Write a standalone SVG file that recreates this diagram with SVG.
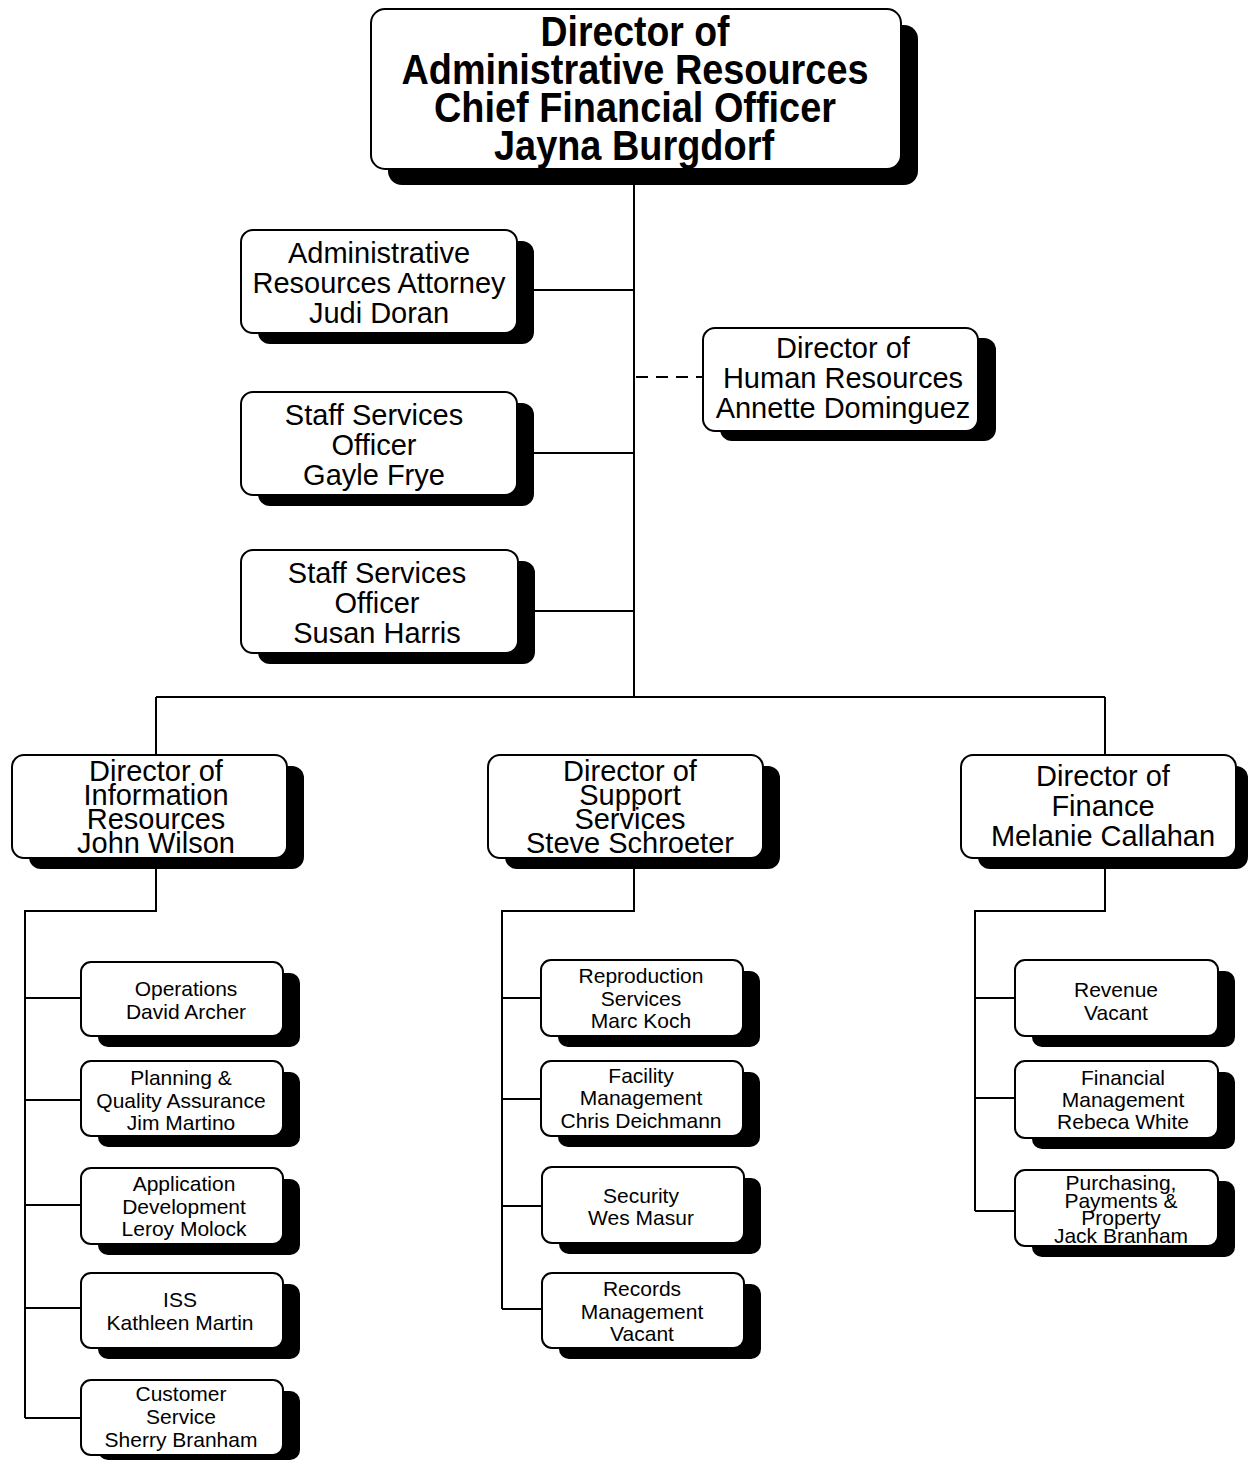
<svg xmlns="http://www.w3.org/2000/svg" width="1248" height="1460" viewBox="0 0 1248 1460">
<style>
.box{fill:#fff;stroke:#000;stroke-width:2}
.sh{fill:#000}
.ln{stroke:#000;stroke-width:2;fill:none}
.dash{stroke:#000;stroke-width:2;fill:none;stroke-dasharray:12,8}
text{font-family:"Liberation Sans",Arial,sans-serif;text-anchor:middle;fill:#000}
.t0{font-size:42px;font-weight:bold}
.t1{font-size:29px}
.t2{font-size:29px}
.t3{font-size:21px}
</style>
<rect width="1248" height="1460" fill="#fff"/>
<g id="connectors">
<path class="ln" d="M634 169V697M517 290H634M516 453H634M518 611H634M156 697H1105M156 697V755M1105 697V755"/>
<path class="dash" d="M636 377H703"/>
<path class="ln" d="M156 869V911H25V1418M25 998H81M25 1100H81M25 1205H81M25 1308H81M25 1418H81"/>
<path class="ln" d="M634 858V911H502V1309M502 998H541M502 1099H541M502 1206H541M502 1309H541"/>
<path class="ln" d="M1105 858V911H975V1211M975 998H1015M975 1098H1015M975 1211H1015"/>
</g>
<g id="n-top">
<rect class="sh" x="388" y="25" width="530" height="160" rx="14"/>
<rect class="box" x="371" y="9" width="530" height="160" rx="14"/>
<text class="t0" x="635" y="46" textLength="189" lengthAdjust="spacingAndGlyphs">Director of</text>
<text class="t0" x="635" y="84" textLength="467" lengthAdjust="spacingAndGlyphs">Administrative Resources</text>
<text class="t0" x="635" y="122" textLength="402" lengthAdjust="spacingAndGlyphs">Chief Financial Officer</text>
<text class="t0" x="634" y="160" textLength="280" lengthAdjust="spacingAndGlyphs">Jayna Burgdorf</text>
</g>
<g id="n-attorney">
<rect class="sh" x="258" y="241" width="276" height="103" rx="12"/>
<rect class="box" x="241" y="230" width="276" height="103" rx="12"/>
<text class="t1" x="379" y="263">Administrative</text>
<text class="t1" x="379" y="293">Resources Attorney</text>
<text class="t1" x="379" y="323">Judi Doran</text>
</g>
<g id="n-gayle">
<rect class="sh" x="258" y="403" width="276" height="103" rx="12"/>
<rect class="box" x="241" y="392" width="276" height="103" rx="12"/>
<text class="t1" x="374" y="425">Staff Services</text>
<text class="t1" x="374" y="455">Officer</text>
<text class="t1" x="374" y="485">Gayle Frye</text>
</g>
<g id="n-susan">
<rect class="sh" x="258" y="561" width="277" height="103" rx="12"/>
<rect class="box" x="241" y="550" width="277" height="103" rx="12"/>
<text class="t1" x="377" y="583">Staff Services</text>
<text class="t1" x="377" y="613">Officer</text>
<text class="t1" x="377" y="643">Susan Harris</text>
</g>
<g id="n-hr">
<rect class="sh" x="720" y="338" width="276" height="103" rx="12"/>
<rect class="box" x="703" y="328" width="275" height="103" rx="12"/>
<text class="t1" x="843" y="358">Director of</text>
<text class="t1" x="843" y="388">Human Resources</text>
<text class="t1" x="843" y="418">Annette Dominguez</text>
</g>
<g id="n-info">
<rect class="sh" x="29" y="766" width="275" height="103" rx="12"/>
<rect class="box" x="12" y="755" width="275" height="103" rx="12"/>
<text class="t2" x="156" y="781">Director of</text>
<text class="t2" x="156" y="805">Information</text>
<text class="t2" x="156" y="829">Resources</text>
<text class="t2" x="156" y="853">John Wilson</text>
</g>
<g id="n-support">
<rect class="sh" x="505" y="766" width="275" height="103" rx="12"/>
<rect class="box" x="488" y="755" width="275" height="103" rx="12"/>
<text class="t2" x="630" y="781">Director of</text>
<text class="t2" x="630" y="805">Support</text>
<text class="t2" x="630" y="829">Services</text>
<text class="t2" x="630" y="853">Steve Schroeter</text>
</g>
<g id="n-finance">
<rect class="sh" x="978" y="766" width="270" height="103" rx="12"/>
<rect class="box" x="961" y="755" width="275" height="103" rx="12"/>
<text class="t2" x="1103" y="786">Director of</text>
<text class="t2" x="1103" y="816">Finance</text>
<text class="t2" x="1103" y="846">Melanie Callahan</text>
</g>
<g id="n-operations">
<rect class="sh" x="98" y="973" width="202" height="74" rx="10"/>
<rect class="box" x="81" y="962" width="202" height="74" rx="10"/>
<text class="t3" x="186" y="996">Operations</text>
<text class="t3" x="186" y="1019">David Archer</text>
</g>
<g id="n-planning">
<rect class="sh" x="98" y="1072" width="202" height="75" rx="10"/>
<rect class="box" x="81" y="1061" width="202" height="75" rx="10"/>
<text class="t3" x="181" y="1085">Planning &amp;</text>
<text class="t3" x="181" y="1108">Quality Assurance</text>
<text class="t3" x="181" y="1130">Jim Martino</text>
</g>
<g id="n-application">
<rect class="sh" x="98" y="1179" width="202" height="76" rx="10"/>
<rect class="box" x="81" y="1168" width="202" height="76" rx="10"/>
<text class="t3" x="184" y="1191">Application</text>
<text class="t3" x="184" y="1214">Development</text>
<text class="t3" x="184" y="1236">Leroy Molock</text>
</g>
<g id="n-iss">
<rect class="sh" x="98" y="1284" width="202" height="75" rx="10"/>
<rect class="box" x="81" y="1273" width="202" height="75" rx="10"/>
<text class="t3" x="180" y="1307">ISS</text>
<text class="t3" x="180" y="1330">Kathleen Martin</text>
</g>
<g id="n-customer">
<rect class="sh" x="98" y="1391" width="202" height="69" rx="10"/>
<rect class="box" x="81" y="1380" width="202" height="75" rx="10"/>
<text class="t3" x="181" y="1401">Customer</text>
<text class="t3" x="181" y="1424">Service</text>
<text class="t3" x="181" y="1447">Sherry Branham</text>
</g>
<g id="n-reproduction">
<rect class="sh" x="558" y="971" width="202" height="76" rx="10"/>
<rect class="box" x="541" y="960" width="202" height="76" rx="10"/>
<text class="t3" x="641" y="983">Reproduction</text>
<text class="t3" x="641" y="1006">Services</text>
<text class="t3" x="641" y="1028">Marc Koch</text>
</g>
<g id="n-facility">
<rect class="sh" x="558" y="1072" width="202" height="75" rx="10"/>
<rect class="box" x="541" y="1061" width="202" height="75" rx="10"/>
<text class="t3" x="641" y="1083">Facility</text>
<text class="t3" x="641" y="1105">Management</text>
<text class="t3" x="641" y="1128">Chris Deichmann</text>
</g>
<g id="n-security">
<rect class="sh" x="559" y="1178" width="202" height="76" rx="10"/>
<rect class="box" x="542" y="1167" width="202" height="76" rx="10"/>
<text class="t3" x="641" y="1203">Security</text>
<text class="t3" x="641" y="1225">Wes Masur</text>
</g>
<g id="n-records">
<rect class="sh" x="559" y="1284" width="202" height="75" rx="10"/>
<rect class="box" x="542" y="1273" width="202" height="75" rx="10"/>
<text class="t3" x="642" y="1296">Records</text>
<text class="t3" x="642" y="1319">Management</text>
<text class="t3" x="642" y="1341">Vacant</text>
</g>
<g id="n-revenue">
<rect class="sh" x="1032" y="971" width="203" height="76" rx="10"/>
<rect class="box" x="1015" y="960" width="203" height="76" rx="10"/>
<text class="t3" x="1116" y="997">Revenue</text>
<text class="t3" x="1116" y="1020">Vacant</text>
</g>
<g id="n-financial">
<rect class="sh" x="1032" y="1072" width="203" height="77" rx="10"/>
<rect class="box" x="1015" y="1061" width="203" height="77" rx="10"/>
<text class="t3" x="1123" y="1085">Financial</text>
<text class="t3" x="1123" y="1107">Management</text>
<text class="t3" x="1123" y="1129">Rebeca White</text>
</g>
<g id="n-purchasing">
<rect class="sh" x="1032" y="1181" width="203" height="76" rx="10"/>
<rect class="box" x="1015" y="1170" width="203" height="76" rx="10"/>
<text class="t3" x="1121" y="1190">Purchasing,</text>
<text class="t3" x="1121" y="1208">Payments &amp;</text>
<text class="t3" x="1121" y="1225">Property</text>
<text class="t3" x="1121" y="1243">Jack Branham</text>
</g>
</svg>
